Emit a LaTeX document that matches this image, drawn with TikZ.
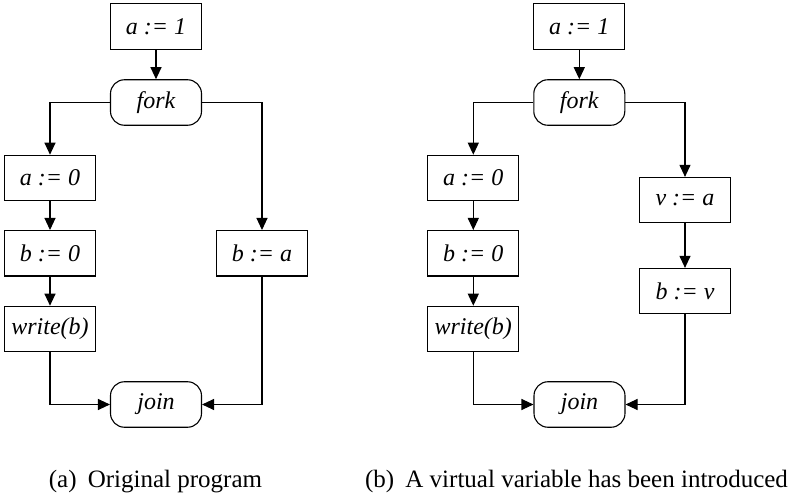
\documentclass[tikz,border=0pt]{standalone}
\usepackage{fontspec}
\setmainfont{Liberation Serif}
\usetikzlibrary{arrows.meta}
\begin{document}
\begin{tikzpicture}[x=1pt,y=-1pt,
  stmt/.style={draw, line width=1.1pt, minimum width=91pt, minimum height=45.5pt, inner sep=0pt, font=\fontsize{24}{28}\selectfont\itshape},
  ctl/.style={stmt, rounded corners=14pt},
  conn/.style={line width=1.1pt, -{Triangle[length=12pt,width=11pt]}},
  captext/.style={anchor=base, inner sep=0pt, font=\fontsize{25}{30}\selectfont}]
\useasboundingbox (0,0) rectangle (796,497);
% (a)
\node[stmt] (la1) at (156,26.7) {a := 1};
\node[ctl]  (lfork) at (156,102.5) {fork};
\node[stmt] (la0) at (50,178) {a := 0};
\node[stmt] (lb0) at (50,253.3) {b := 0};
\node[stmt] (lwb) at (50,329) {write(b)};
\node[stmt] (lba) at (262,253.3) {b := a};
\node[ctl]  (ljoin) at (156,404.5) {join};
\draw[conn] (la1) -- (lfork);
\draw[conn] (lfork.west) -| (la0.north);
\draw[conn] (lfork.east) -| (lba.north);
\draw[conn] (la0) -- (lb0);
\draw[conn] (lb0) -- (lwb);
\draw[conn] (lwb.south) |- (ljoin.west);
\draw[conn] (lba.south) |- (ljoin.east);
\node[captext] (capa) at (155.5,487) {(a)\hspace{0.45em}Original program};
% (b)
\node[stmt] (ra1) at (579.3,26.7) {a := 1};
\node[ctl]  (rfork) at (579.3,102.5) {fork};
\node[stmt] (ra0) at (473.3,178) {a := 0};
\node[stmt] (rb0) at (473.3,253.3) {b := 0};
\node[stmt] (rwb) at (473.3,329) {write(b)};
\node[stmt] (rva) at (685,200.2) {v := a};
\node[stmt] (rbv) at (685,291.2) {b := v};
\node[ctl]  (rjoin) at (579.5,404.5) {join};
\draw[conn] (ra1) -- (rfork);
\draw[conn] (rfork.west) -| (ra0.north);
\draw[conn] (rfork.east) -| (rva.north);
\draw[conn] (ra0) -- (rb0);
\draw[conn] (rb0) -- (rwb);
\draw[conn] (rva) -- (rbv);
\draw[conn] (rwb.south) |- (rjoin.west);
\draw[conn] (rbv.south) |- (rjoin.east);
\node[captext] (capb) at (576.5,487) {(b)\hspace{0.45em}A virtual variable has been introduced};
\end{tikzpicture}
\end{document}
